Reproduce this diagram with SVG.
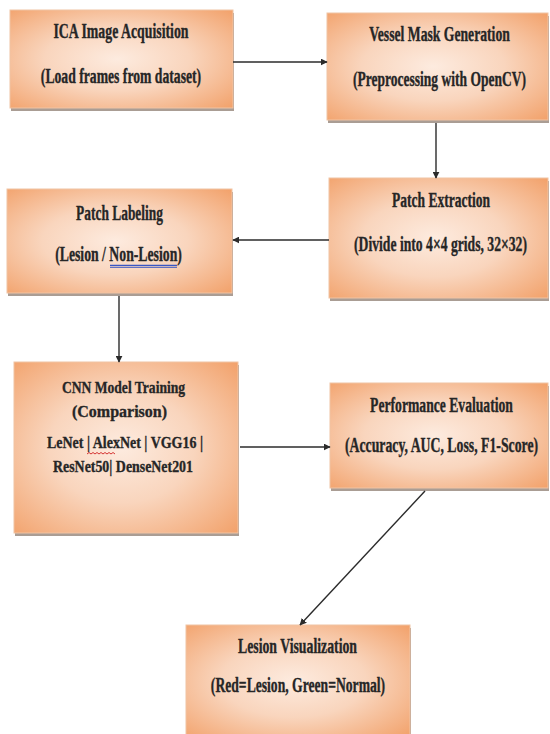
<svg xmlns="http://www.w3.org/2000/svg" width="550" height="734" viewBox="0 0 550 734">
  <defs>
    <radialGradient id="peach" cx="48%" cy="50%" r="72%">
      <stop offset="0" stop-color="#fdebdf"/>
      <stop offset="0.45" stop-color="#f9d5bd"/>
      <stop offset="1" stop-color="#f2a16a"/>
    </radialGradient>
    <marker id="arr" viewBox="0 0 10 10" refX="9" refY="5" markerWidth="7" markerHeight="7" orient="auto" markerUnits="userSpaceOnUse">
      <path d="M0,0 L10,5 L0,10 z" fill="#2b2b2b"/>
    </marker>
  </defs>
  <style>
    .shadow { fill: #aa9d94; }
    .box { fill: url(#peach); stroke: #f0c4a4; stroke-width: 1; }
    .t { font-family: "Liberation Serif", "Times New Roman", serif; font-weight: bold; font-size: 20px; fill: #262626; stroke: #262626; stroke-width: 0.35; text-anchor: middle; }
    .lg { font-size: 21px; }
    .sm { font-size: 17.5px; }
    .conn { stroke: #2b2b2b; stroke-width: 1.4; fill: none; marker-end: url(#arr); }
  </style>
  <rect width="550" height="734" fill="#ffffff"/>

  <g id="node-acquisition">
    <rect class="shadow" x="11" y="13" width="223" height="98"/>
    <rect class="box" x="10" y="10" width="223" height="98"/>
    <text class="t" transform="matrix(0.7 0 0 1 121 38)" textLength="193" lengthAdjust="spacingAndGlyphs">ICA Image Acquisition</text>
    <text class="t" transform="matrix(0.7 0 0 1 121 83)" textLength="229" lengthAdjust="spacingAndGlyphs">(Load frames from dataset)</text>
  </g>

  <g id="node-mask">
    <rect class="shadow" x="328" y="16" width="221" height="107"/>
    <rect class="box" x="327" y="13" width="221" height="107"/>
    <text class="t" transform="matrix(0.7 0 0 1 439.5 41)" textLength="201" lengthAdjust="spacingAndGlyphs">Vessel Mask Generation</text>
    <text class="t" transform="matrix(0.7 0 0 1 439.5 86)" textLength="247" lengthAdjust="spacingAndGlyphs">(Preprocessing with OpenCV)</text>
  </g>

  <g id="node-extraction">
    <rect class="shadow" x="330" y="181" width="219" height="120"/>
    <rect class="box" x="329" y="178" width="219" height="120"/>
    <text class="t" transform="matrix(0.7 0 0 1 441 207)" textLength="140" lengthAdjust="spacingAndGlyphs">Patch Extraction</text>
    <text class="t" transform="matrix(0.7 0 0 1 440.5 251)" textLength="247" lengthAdjust="spacingAndGlyphs">(Divide into 4×4 grids, 32×32)</text>
  </g>

  <g id="node-labeling">
    <rect class="shadow" x="8" y="192" width="225" height="104"/>
    <rect class="box" x="7" y="189" width="225" height="104"/>
    <text class="t lg" transform="matrix(0.7 0 0 1 119.5 220)" textLength="124" lengthAdjust="spacingAndGlyphs">Patch Labeling</text>
    <text class="t lg" transform="matrix(0.7 0 0 1 118.5 261)" textLength="181" lengthAdjust="spacingAndGlyphs">(Lesion / Non-Lesion)</text>
    <line x1="110" y1="265.5" x2="177" y2="265.5" stroke="#3a57c4" stroke-width="1.3"/>
    <line x1="110" y1="267.5" x2="177" y2="267.5" stroke="#3a57c4" stroke-width="0.8"/>
  </g>

  <g id="node-training">
    <rect class="shadow" x="15" y="365" width="224" height="171"/>
    <rect class="box" x="14" y="362" width="224" height="171"/>
    <text class="t sm" transform="matrix(0.7 0 0 1 123.5 393)" textLength="176" lengthAdjust="spacingAndGlyphs">CNN Model Training</text>
    <text class="t sm" transform="matrix(0.7 0 0 1 119.5 417)" textLength="136" lengthAdjust="spacingAndGlyphs">(Comparison)</text>
    <text class="t sm" transform="matrix(0.7 0 0 1 125 448)" textLength="223" lengthAdjust="spacingAndGlyphs">LeNet | AlexNet | VGG16 |</text>
    <text class="t sm" transform="matrix(0.7 0 0 1 123 472)" textLength="200" lengthAdjust="spacingAndGlyphs">ResNet50| DenseNet201</text>
    <path d="M87,454 l2,-1.5 l2,1.5 l2,-1.5 l2,1.5 l2,-1.5 l2,1.5 l2,-1.5 l2,1.5 l2,-1.5 l2,1.5 l2,-1.5 l2,1.5 l2,-1.5 l2,1.5" stroke="#d02020" stroke-width="0.9" fill="none"/>
  </g>

  <g id="node-evaluation">
    <rect class="shadow" x="331" y="386" width="218" height="105"/>
    <rect class="box" x="330" y="383" width="218" height="105"/>
    <text class="t lg" transform="matrix(0.7 0 0 1 441.5 412)" textLength="204" lengthAdjust="spacingAndGlyphs">Performance Evaluation</text>
    <text class="t lg" transform="matrix(0.7 0 0 1 441.5 452)" textLength="276" lengthAdjust="spacingAndGlyphs">(Accuracy, AUC, Loss, F1-Score)</text>
  </g>

  <g id="node-visualization">
    <rect class="shadow" x="187" y="628" width="224" height="112"/>
    <rect class="box" x="186" y="625" width="224" height="112"/>
    <text class="t lg" transform="matrix(0.7 0 0 1 297.5 653)" textLength="170" lengthAdjust="spacingAndGlyphs">Lesion Visualization</text>
    <text class="t lg" transform="matrix(0.7 0 0 1 298 692)" textLength="249" lengthAdjust="spacingAndGlyphs">(Red=Lesion, Green=Normal)</text>
  </g>

  <g id="connectors">
    <line class="conn" x1="233" y1="62" x2="327" y2="62"/>
    <line class="conn" x1="436" y1="123" x2="436" y2="178"/>
    <line class="conn" x1="329" y1="240" x2="233" y2="240"/>
    <line class="conn" x1="119" y1="296" x2="119" y2="362"/>
    <line class="conn" x1="240" y1="447" x2="330" y2="447"/>
    <line class="conn" x1="425" y1="491" x2="300" y2="625"/>
  </g>
</svg>
